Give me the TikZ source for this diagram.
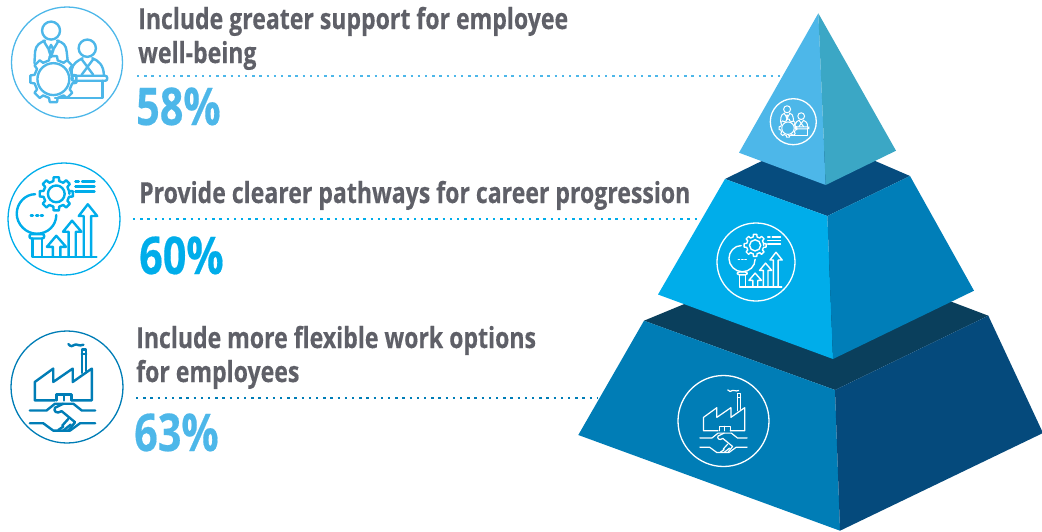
\documentclass[tikz,border=0pt]{standalone}
\usepackage{fontspec}
\setmainfont{Open Sans}[FakeStretch=0.795,BoldFeatures={FakeBold=0.35}]
\definecolor{tl}{HTML}{4DB7E9}
\definecolor{tr}{HTML}{3BA7C5}
\definecolor{ml}{HTML}{00ADEA}
\definecolor{mr}{HTML}{007EB8}
\definecolor{mt}{HTML}{064C7E}
\definecolor{bl}{HTML}{007DB6}
\definecolor{br}{HTML}{054A7C}
\definecolor{bt}{HTML}{0A3F5C}
\definecolor{ink}{HTML}{5F6068}
\tikzset{
  head/.style={font=\fontsize{29}{29}\selectfont\bfseries,text=ink,anchor=base west,inner sep=0pt},
  pct/.style={font=\fontsize{52}{52}\selectfont\bfseries,anchor=base west,inner sep=0pt},
  dots/.style={line width=2.8pt,line cap=butt,dash pattern=on 2.4pt off 4.8pt},
  ring/.style={line width=#1,line join=round,line cap=round}
}
% gear: centre x,y inner-radius outer-radius body-radius
\newcommand{\cog}[5]{%
  \draw[shift={(#1,#2)}] (0:#5)\foreach \a in {0,45,...,315}{
    -- (\a+0-13:#5) -- (\a-9:#4) -- (\a+9:#4) -- (\a+13:#5) -- (\a+32:#5)} -- cycle;
  \draw (#1,#2) circle (#3);}
% x y r colour lw inner-scale content-centre-x
\newcommand{\icona}[7]{%
  \begin{scope}[shift={(#1,#2)},draw=#4,ring=#5]
  \draw[line width=1.3pt] (0,0) circle (#3);
  \begin{scope}[scale=#6*#3/167,shift={(-#7,-188)}]
    \draw (153,92) circle (27) (262,145) circle (26);
    \draw (103,190) -- (105,155) .. controls (107,135) and (120,128) .. (135,122)
      (171,122) .. controls (190,128) and (198,135) .. (200,155) -- (203,182);
    \draw (130,122) -- (153,160) -- (176,122) (153,135) -- (146,150) -- (153,172) -- (160,150) -- cycle;
    \cog{160}{238}{48}{70}{58}
    \draw (215,228) -- (215,210) .. controls (218,190) and (235,182) .. (248,175)
       (277,175) .. controls (295,182) and (312,195) .. (312,228);
    \draw (245,178) -- (280,225) (280,178) -- (245,225);
    \draw[rounded corners=2] (215,228) rectangle (322,243);
    \draw (308,243) -- (308,295) -- (165,295);
  \end{scope}
  \end{scope}}
\newcommand{\iconb}[7]{%
  \begin{scope}[shift={(#1,#2)},draw=#4,ring=#5]
  \draw[line width=1.3pt] (0,0) circle (#3);
  \begin{scope}[scale=#6*#3/167,shift={(-#7,-192)}]
    \cog{168}{117}{25}{50}{39}
    \draw (225,80) -- (235,80) (245,80) -- (282,80) (225,95) -- (282,95) (225,110) -- (282,110);
    \draw (105,118) .. controls (75,118) and (50,145) .. (50,176)
      .. controls (50,208) and (78,236) .. (110,236) .. controls (142,236) and (168,212) .. (168,180);
    \draw (92,181) -- (98,181) (108,181) -- (114,181) (122,181) -- (128,181);
    \draw[rounded corners=2] (88,237) rectangle (132,250);
    \draw (97,250) -- (97,305) -- (288,305) (125,250) -- (125,305);
    \draw (158,305) -- (158,275) -- (140,275) -- (168,242) -- (197,275) -- (180,275) -- (180,305);
    \draw (205,305) -- (205,230) -- (188,230) -- (215,197) -- (243,230) -- (226,230) -- (226,305);
    \draw (250,305) -- (250,183) -- (235,183) -- (262,148) -- (290,183) -- (272,183) -- (272,305);
  \end{scope}
  \end{scope}}
\newcommand{\iconc}[7]{%
  \begin{scope}[shift={(#1,#2)},draw=#4,ring=#5]
  \draw[line width=1.3pt] (0,0) circle (#3);
  \begin{scope}[scale=#6*#3/167,shift={(-#7,-200)}]
    \draw (165,240) -- (105,240) -- (105,185) -- (160,145) -- (160,185) -- (218,145) -- (218,185) -- (275,145) -- (275,240) -- (215,240);
    \draw (245,158) -- (245,88) -- (258,88) -- (258,152) (245,102) -- (258,102);
    \draw (205,72) .. controls (212,80) and (218,80) .. (224,74) .. controls (230,70) and (236,80) .. (250,74);
    \draw (170,240) -- (170,222) -- (215,222) -- (215,240) (192,222) -- (192,240);
    \draw (90,270) -- (140,270) -- (165,250) -- (220,250) -- (245,270) -- (285,270);
    \draw (90,308) -- (130,308) -- (160,330) -- (210,330) -- (240,308) -- (285,308);
    \draw (190,250) -- (165,262) .. controls (160,272) and (170,282) .. (185,272) -- (225,305) -- (205,330);
    \draw (205,295) -- (187,315) (190,330) -- (212,312) (175,328) -- (190,318);
  \end{scope}
  \end{scope}}
\begin{document}
\begin{tikzpicture}[x=1pt,y=-1pt]
\useasboundingbox (0,0) rectangle (1042,531);
% dotted rules
\coordinate (d1a) at (137,76);  \coordinate (d1b) at (781,76);
\coordinate (d2a) at (133,219); \coordinate (d2b) at (697,219);
\coordinate (d3a) at (136,398); \coordinate (d3b) at (598,398);
\draw[dots,tl] (d1a) -- (d1b);
\draw[dots,ml] (d2a) -- (d2b);
\draw[dots,bl] (d3a) -- (d3b);
% bottom tier
\fill[bt] (644,320.7) -- (815,250) -- (988.3,315.7) -- (835,390) -- cycle;
\fill[bl] (644,320.7) -- (578.3,435) -- (840,530.7) -- (835,390) -- cycle;
\fill[br] (988.3,315.7) -- (1043,433) -- (840,530.7) -- (835,390) -- cycle;
% middle tier
\fill[mt] (725,179) -- (815,135) -- (910,176) -- (827.3,216) -- cycle;
\fill[ml] (725,179) -- (658,294.5) -- (833,359) -- (827.3,216) -- cycle;
\fill[mr] (910,176) -- (974,290.7) -- (833,359) -- (827.3,216) -- cycle;
% top tier
\fill[tl] (818.3,13.3) -- (739,152.7) -- (825.7,185) -- cycle;
\fill[tr] (818.3,13.3) -- (896,150.7) -- (825.7,185) -- cycle;
% icons
\icona{67}{62.5}{55.5}{tl}{2.4pt}{1}{201}
\iconb{64}{219}{56}{ml}{2.4pt}{1}{191}
\iconc{67}{387}{56}{bl}{2.4pt}{1}{201}
\icona{793.3}{121.7}{23}{white}{1pt}{0.94}{201}
\iconb{756}{262}{39}{white}{1.4pt}{0.95}{172}
\iconc{723.5}{421}{45.5}{white}{1.2pt}{0.89}{187.5}
% text
\node[head] (t1) at (138,29) {Include greater support for employee};
\node[head] (t1b) at (138,63) {well-being};
\node[pct,text=tl] (p1) at (136,125) {58\%};
\node[head] (t2) at (139,203) {Provide clearer pathways for career progression};
\node[pct,text=ml] (p2) at (139,274) {60\%};
\node[head] (t3) at (136,348) {Include more flexible work options};
\node[head] (t3b) at (136,382) {for employees};
\node[pct,text=tl] (p3) at (134,451) {63\%};
\end{tikzpicture}
\end{document}
